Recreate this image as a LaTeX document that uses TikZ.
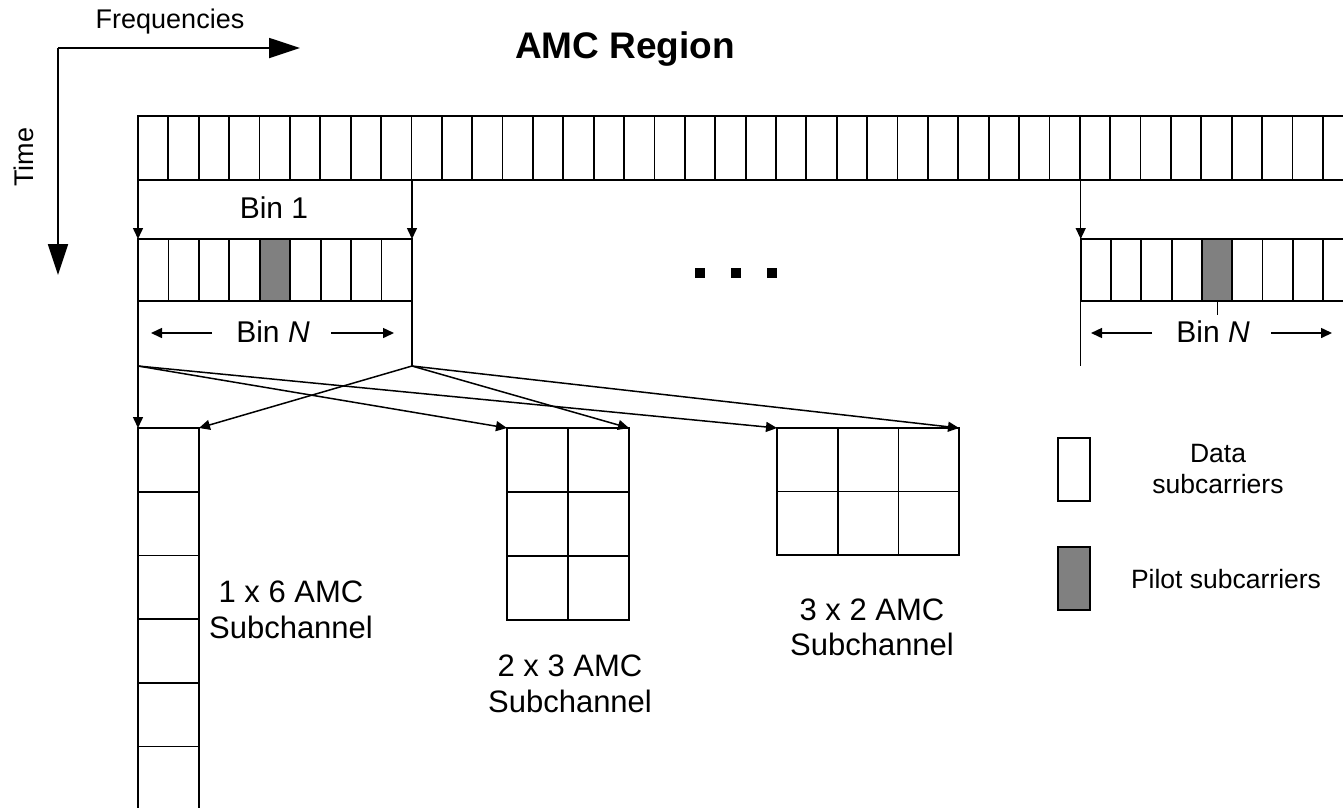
\documentclass[tikz,border=0pt]{standalone}
\usepackage{fontspec}
\setmainfont{Liberation Sans}
\usetikzlibrary{arrows.meta}
\definecolor{pilotgray}{HTML}{808080}
\begin{document}
\begin{tikzpicture}[x=1pt,y=-1pt,line width=1.8pt,
  cellbox/.style={draw,line width=1.8pt},
  pilotbox/.style={cellbox,fill=pilotgray},
  conn/.style={line width=1.5pt},
  arr/.style={conn,-{Triangle[length=11pt,width=10pt]}},
  binarr/.style={line width=1.5pt,-{Triangle[length=11pt,width=10pt]}},
  bigarr/.style={line width=1.8pt,-{Triangle[length=31pt,width=20pt]}},
  lbl/.style={font=\fontsize{30}{36}\selectfont,anchor=base,inner sep=0pt},
  sublbl/.style={font=\fontsize{31}{37}\selectfont,anchor=base,inner sep=0pt},
  smalllbl/.style={font=\fontsize{27}{32}\selectfont,anchor=base,inner sep=0pt},
  leglbl/.style={font=\fontsize{26.5}{31}\selectfont,anchor=base,inner sep=0pt}]
\useasboundingbox (0,0) rectangle (1343,807);
\clip (0,0) rectangle (1343,807);

% axes
\coordinate (origin) at (58,48);
\coordinate (freqend) at (300,48);
\coordinate (timeend) at (58,275);
\draw[bigarr] (origin) -- (freqend);
\draw[bigarr] (origin) -- (timeend);
\node[smalllbl] (freq) at (170,28) {Frequencies};
\node[smalllbl,rotate=90] (time) at (33,157) {Time};
\node[font=\fontsize{37}{44}\selectfont\bfseries,anchor=base,inner sep=0pt] (title) at (625,58) {AMC Region};

% top strip
\foreach \i in {0,...,40} {
  \draw[cellbox] ({138+\i*30.38},116) rectangle ++(30.38,64);
}

% left bin row
\foreach \i in {0,...,8} {
  \ifnum\i=4
    \draw[pilotbox] ({138+\i*30.44},239) rectangle ++(30.44,62);
  \else
    \draw[cellbox] ({138+\i*30.44},239) rectangle ++(30.44,62);
  \fi
}
% right bin row
\foreach \i in {0,...,9} {
  \ifnum\i=4
    \draw[pilotbox] ({1080.7+\i*30.3},239) rectangle ++(30.3,62);
  \else
    \draw[cellbox] ({1080.7+\i*30.3},239) rectangle ++(30.3,62);
  \fi
}

% bin arrows
\coordinate (s1) at (138,180);
\coordinate (s2) at (412,180);
\coordinate (s3) at (1080.7,180);
\coordinate (r1) at (138,239);
\coordinate (r2) at (412,239);
\coordinate (r3) at (1080.7,239);
\draw[arr] (s1) -- (r1);
\draw[arr] (s2) -- (r2);
\draw[arr] (s3) -- (r3);
\node[lbl] (bin1) at (274,218) {Bin 1};

% bin N markers
\coordinate (b1) at (138,301);
\coordinate (b2) at (412,301);
\coordinate (b3) at (1080.7,301);
\coordinate (p1) at (138,366);
\coordinate (p2) at (412,366);
\coordinate (p3) at (1080.7,366);
\coordinate (tk1) at (1217,301);
\coordinate (tk2) at (1217,315);
\draw[conn] (b1) -- (p1);
\draw[conn] (b2) -- (p2);
\draw[conn] (b3) -- (p3);
\draw[line width=1pt] (tk1) -- (tk2);

\node[lbl] (binNl) at (273,342) {Bin \textit{N}};
\coordinate (la1) at (212,333); \coordinate (la2) at (151,333);
\coordinate (la3) at (331,333); \coordinate (la4) at (394,333);
\draw[binarr] (la1) -- (la2);
\draw[binarr] (la3) -- (la4);

\node[lbl] (binNr) at (1213,342) {Bin \textit{N}};
\coordinate (ra1) at (1152,333); \coordinate (ra2) at (1091,333);
\coordinate (ra3) at (1271,333); \coordinate (ra4) at (1332,333);
\draw[binarr] (ra1) -- (ra2);
\draw[binarr] (ra3) -- (ra4);

% ellipsis
\foreach \x in {695,731,767} {
  \fill ({\x},268) rectangle ++(10,10);
}

% subchannels
\foreach \k in {0,...,5} {
  \draw[cellbox] (138,{428+\k*63.7}) rectangle ++(61,63.7);
}
\foreach \c in {0,1} {
  \foreach \r in {0,1,2} {
    \draw[cellbox] ({507+\c*61},{428+\r*64}) rectangle ++(61,64);
  }
}
\foreach \c in {0,1,2} {
  \foreach \r in {0,1} {
    \draw[cellbox] ({777+\c*60.7},{428+\r*63.5}) rectangle ++(60.7,63.5);
  }
}
\coordinate (c1l) at (138,428);
\coordinate (c1r) at (199,428);
\coordinate (c2l) at (507,428);
\coordinate (c2r) at (629,428);
\coordinate (c3l) at (777,428);
\coordinate (c3r) at (959,428);
\draw[arr] (p1) -- (c1l);
\draw[arr] (p1) -- (c2l);
\draw[arr] (p1) -- (c3l);
\draw[arr] (p2) -- (c1r);
\draw[arr] (p2) -- (c2r);
\draw[arr] (p2) -- (c3r);

\node[sublbl] (l1a) at (291,602) {1 x 6 AMC};
\node[sublbl] (l1b) at (291,638) {Subchannel};
\node[sublbl] (l2a) at (570,676) {2 x 3 AMC};
\node[sublbl] (l2b) at (570,712) {Subchannel};
\node[sublbl] (l3a) at (872,620) {3 x 2 AMC};
\node[sublbl] (l3b) at (872,655) {Subchannel};

% legend
\draw[line width=1.5pt] (1058,438) rectangle (1090,501);
\draw[line width=1.5pt,fill=pilotgray] (1058,547) rectangle (1090,610);
\node[leglbl] (lg1) at (1218,462) {Data};
\node[leglbl] (lg2) at (1218,493) {subcarriers};
\node[leglbl] (lg3) at (1226,588) {Pilot subcarriers};
\end{tikzpicture}
\end{document}
